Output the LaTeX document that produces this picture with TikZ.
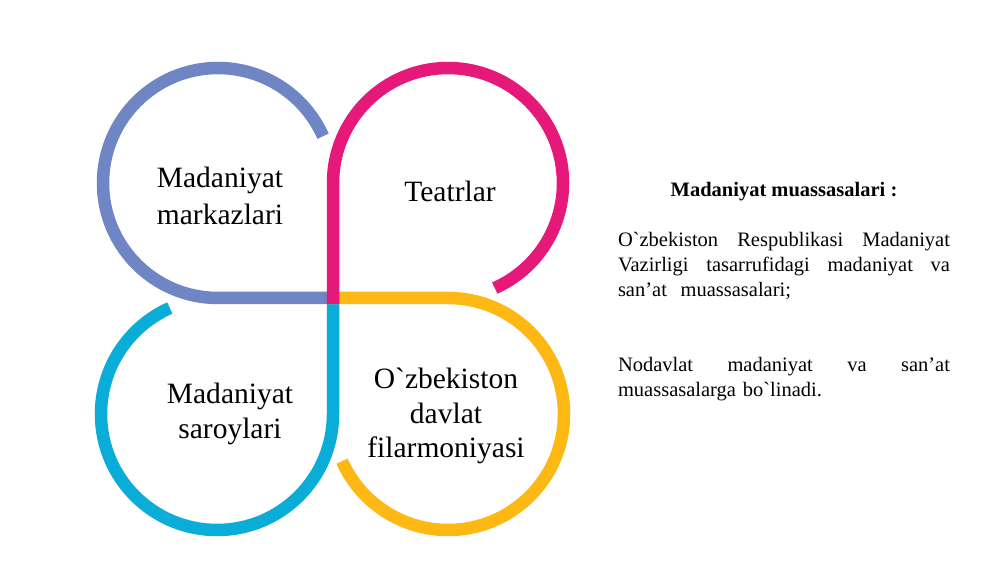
\documentclass[tikz,border=0pt]{standalone}
\usepackage{fontspec}
\setmainfont{Liberation Serif}[Ligatures=TeXOff]
\newcommand{\jline}[1]{\makebox[332pt][s]{\spaceskip=0pt\relax#1}}

\begin{document}
\begin{tikzpicture}[x=1pt,y=1pt,
  leaf/.style={line width=12.5pt,line cap=butt,line join=round},
  leaftext/.style={text=black,align=center,anchor=base,inner sep=0pt,outer sep=0pt,font=\fontsize{29.5}{35}\selectfont},
  sidetext/.style={text=black,inner sep=0pt,outer sep=0pt,font=\fontsize{20.5}{25}\selectfont}]
\definecolor{fillColor}{RGB}{255,255,255}
\definecolor{leafBlue}{RGB}{111,133,196}
\definecolor{leafPink}{RGB}{230,25,122}
\definecolor{leafGold}{RGB}{253,184,20}
\definecolor{leafCyan}{RGB}{10,172,216}
\path[use as bounding box,fill=fillColor] (0,0) rectangle (1000,562);

\path[draw=leafCyan,leaf] (333,270) -- (333,148) arc[start angle=0,end angle=-246,radius=116];

\path[draw=leafBlue,leaf] (339,264) -- (218,264) arc[start angle=270,end angle=24,radius=115];

\path[draw=leafGold,leaf] (327,264) -- (448,264) arc[start angle=90,end angle=-156,radius=116];

\path[draw=leafPink,leaf] (333,258) -- (333,379) arc[start angle=180,end angle=-66,radius=115];

\node[leaftext,font=\fontsize{29.5}{37}\selectfont] (markaz) at (220,337) {Madaniyat\\markazlari};

\node[leaftext] (teatr) at (450,360) {Teatrlar};

\node[leaftext] (saroy) at (230,124) {Madaniyat\\saroylari};

\node[leaftext] (filarmoniya) at (446,104) {O`zbekiston\\davlat\\filarmoniyasi};

\node[sidetext,anchor=base,font=\fontsize{20.5}{25}\selectfont\bfseries] (sarlavha) at (784,365) {Madaniyat muassasalari :};

\node[sidetext,anchor=base west,text width=332pt,align=left] (vazirlik) at (618,315)
  {\jline{O`zbekiston Respublikasi Madaniyat}\\\jline{Vazirligi tasarrufidagi madaniyat va}\\san’at\ \ muassasalari;};

\node[sidetext,anchor=base west,text width=332pt,align=left] (nodavlat) at (618,190)
  {\jline{Nodavlat madaniyat va san’at}\\muassasalarga bo`linadi.};
\end{tikzpicture}
\end{document}
